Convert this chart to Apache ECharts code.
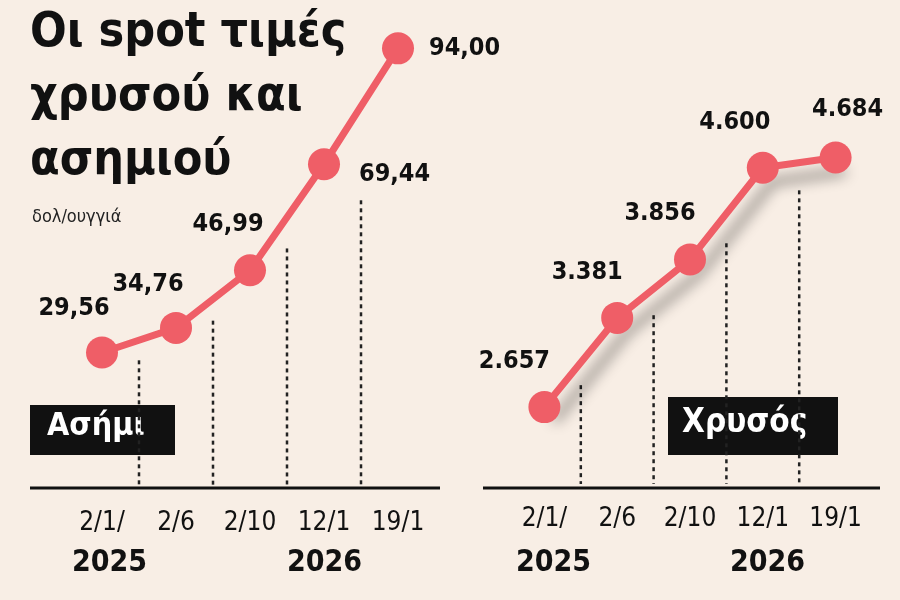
<!DOCTYPE html>
<html>
<head>
<meta charset="utf-8">
<script src="https://cdn.jsdelivr.net/npm/echarts@6/dist/echarts.min.js"></script>
<style>html,body{margin:0;background:#f8eee5}#c{width:900px;height:600px}</style>
</head>
<body>
<div id="c"></div>
<script>
const dates = ['2/1/', '2/6', '2/10', '12/1', '19/1']
const silver = [29.56, 34.76, 46.99, 69.44, 94.0]
const gold = [2657, 3381, 3856, 4600, 4684]
// where the dotted separators start (in data units), between points i and i+1
const silverDash = [27.9, 36.3, 51.6, 61.8]
const goldDash = [2835, 3403, 3987, 4417]

const FONT = '"Liberation Sans Narrow", "DejaVu Sans Condensed", "Liberation Sans", sans-serif'
const RED = '#ef5e67'

const chart = echarts.init(document.getElementById('c'))

const fmtSilver = (v) => v.toFixed(2).replace('.', ',')
const fmtGold = (v) => (v / 1000).toFixed(3)

const silverLabels = [
  { position: 'top', offset: [-28, -10] },
  { position: 'top', offset: [-28, -10] },
  { position: 'top', offset: [-22, -12] },
  { position: 'right', offset: [14, 10] },
  { position: 'right', offset: [10, 0] },
]
const goldLabels = [
  { position: 'top', offset: [-30, -12] },
  { position: 'top', offset: [-30, -12] },
  { position: 'top', offset: [-30, -12] },
  { position: 'top', offset: [-28, -12] },
  { position: 'top', offset: [12, -14] },
]

const pointData = (vals, labs, fmt) =>
  vals.map((v, i) => ({
    value: v,
    label: Object.assign({ formatter: fmt(v) }, labs[i]),
  }))

const dashSeries = (idx, tops) => ({
  type: 'custom',
  xAxisIndex: idx,
  yAxisIndex: idx,
  silent: true,
  z: 1,
  data: tops.map((t, i) => [i, t]),
  renderItem(params, api) {
    const top = api.coord([api.value(0), api.value(1)])
    const base = api.coord([api.value(0), idx === 0 ? 0 : 2000])
    const w = api.size([1, 0])[0]
    const x = top[0] + w / 2
    return {
      type: 'line',
      shape: { x1: x, y1: top[1], x2: x, y2: base[1] - 4 },
      style: { stroke: '#222', lineWidth: 2.5, lineDash: [4, 4] },
    }
  },
})

const xAxisBase = {
  type: 'category',
  data: dates,
  boundaryGap: true,
  axisLine: { show: false },
  axisTick: { show: false },
  axisLabel: { color: '#111', fontSize: 26, fontFamily: FONT, margin: 18 },
}

const pointLabel = {
  show: true,
  color: '#111',
  fontSize: 25,
  fontWeight: 'bold',
  fontFamily: FONT,
}

chart.setOption({
  backgroundColor: '#f8eee5',
  animation: false,
  grid: [
    { left: 65, width: 370, top: 20, height: 472 },
    { left: 508, width: 364, top: 20, height: 468 },
  ],
  xAxis: [
    Object.assign({ gridIndex: 0 }, xAxisBase),
    Object.assign({ gridIndex: 1 }, xAxisBase),
  ],
  yAxis: [
    { gridIndex: 0, type: 'value', min: 0, max: 100, show: false },
    { gridIndex: 1, type: 'value', min: 2000, max: 5800, show: false },
  ],
  series: [
    dashSeries(0, silverDash),
    dashSeries(1, goldDash),
    {
      type: 'line',
      xAxisIndex: 0,
      yAxisIndex: 0,
      data: pointData(silver, silverLabels, fmtSilver),
      symbol: 'circle',
      symbolSize: 32,
      itemStyle: { color: RED },
      lineStyle: { color: RED, width: 7 },
      label: pointLabel,
      z: 3,
    },
    {
      type: 'line',
      xAxisIndex: 1,
      yAxisIndex: 1,
      data: pointData(gold, goldLabels, fmtGold),
      symbol: 'circle',
      symbolSize: 32,
      itemStyle: { color: RED },
      lineStyle: {
        color: RED,
        width: 7,
        shadowColor: 'rgba(0,0,0,0.45)',
        shadowBlur: 14,
        shadowOffsetX: 10,
        shadowOffsetY: 14,
      },
      label: pointLabel,
      z: 3,
    },
  ],
  graphic: [
    { type: 'line', shape: { x1: 30, y1: 488, x2: 440, y2: 488 }, style: { stroke: '#111', lineWidth: 3 } },
    { type: 'line', shape: { x1: 483, y1: 488, x2: 880, y2: 488 }, style: { stroke: '#111', lineWidth: 3 } },
    {
      type: 'text', left: 30, top: 2,
      style: { text: 'Οι spot τιμές\nχρυσού και\nασημιού', fill: '#111', font: 'bold 48px ' + FONT, lineHeight: 64 },
    },
    { type: 'text', left: 32, top: 208, style: { text: 'δολ/ουγγιά', fill: '#222', font: '18px ' + FONT } },
    { type: 'rect', shape: { x: 30, y: 405, width: 145, height: 50 }, style: { fill: '#111' } },
    { type: 'text', left: 47, top: 411, style: { text: 'Ασήμι', fill: '#fff', font: 'bold 32px ' + FONT } },
    { type: 'rect', shape: { x: 668, y: 397, width: 170, height: 58 }, style: { fill: '#111' } },
    { type: 'text', left: 682, top: 407, style: { text: 'Χρυσός', fill: '#fff', font: 'bold 33px ' + FONT } },
    { type: 'text', left: 72, top: 548, style: { text: '2025', fill: '#111', font: 'bold 30px ' + FONT } },
    { type: 'text', left: 287, top: 548, style: { text: '2026', fill: '#111', font: 'bold 30px ' + FONT } },
    { type: 'text', left: 516, top: 548, style: { text: '2025', fill: '#111', font: 'bold 30px ' + FONT } },
    { type: 'text', left: 730, top: 548, style: { text: '2026', fill: '#111', font: 'bold 30px ' + FONT } },
  ],
})
</script>
</body>
</html>
